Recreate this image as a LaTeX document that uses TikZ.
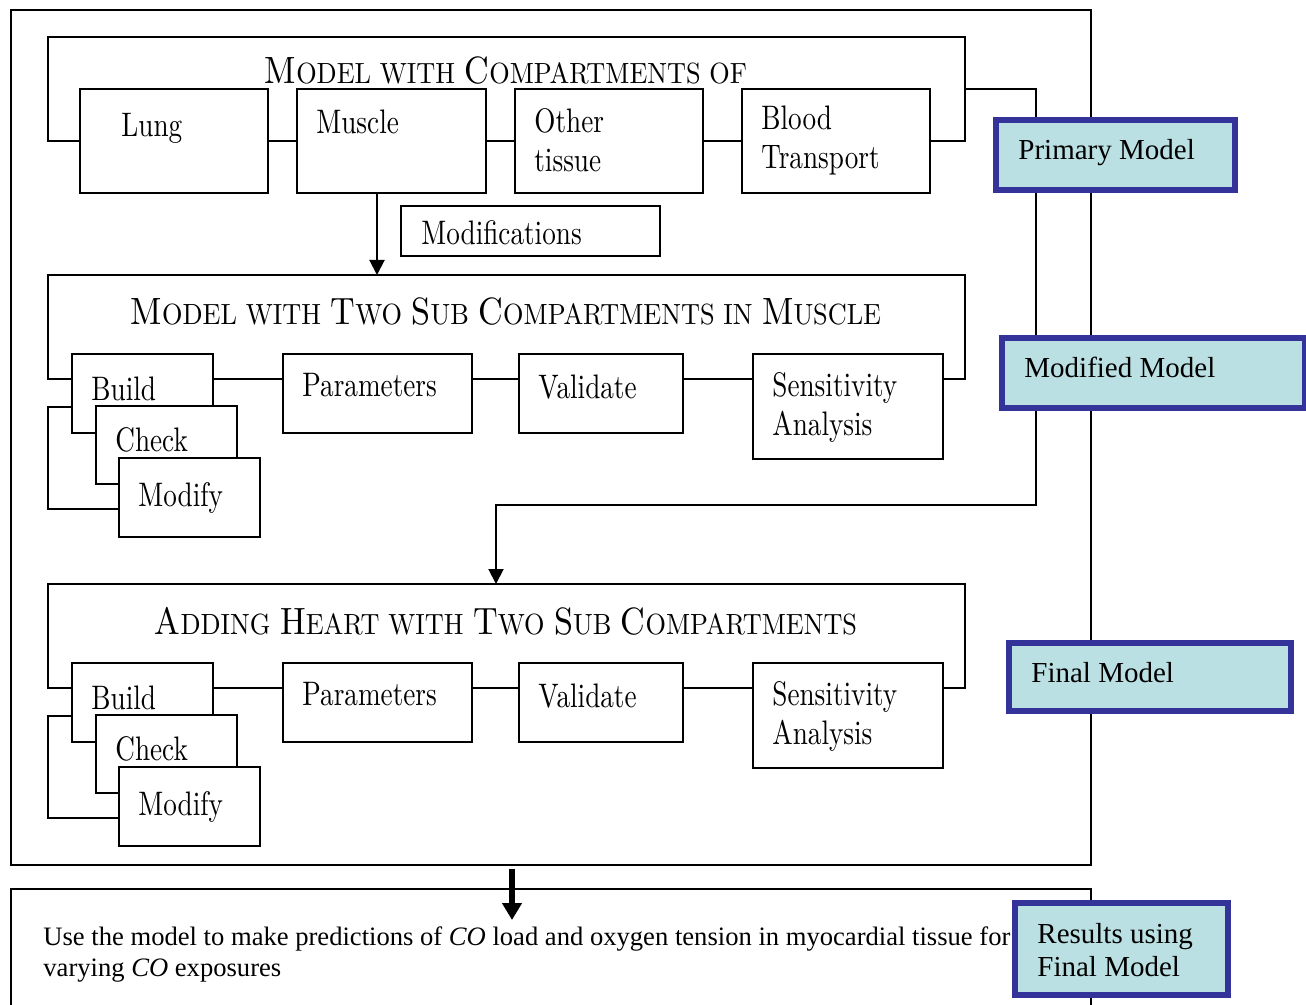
\documentclass[tikz,border=0pt]{standalone}
\usepackage{fontspec}
\newfontfamily\boxfont{lmroman10-regular.otf}[FakeStretch=0.8]
\newfontfamily\titlefont{lmroman10-regular.otf}[FakeStretch=0.9]
\newfontfamily\timesfont{Liberation Serif}
\usetikzlibrary{arrows.meta,calc}
\definecolor{modelblue}{HTML}{333399}
\definecolor{modelfill}{HTML}{BBE0E3}
\newcommand{\tcap}[1]{{\fontsize{19}{22}\selectfont #1}}
\newcommand{\tsmall}[1]{{\fontsize{14.6}{18}\selectfont #1}}
\tikzset{
  link/.style={line width=1pt},
  flow/.style={link, -{Triangle[length=7.5pt, width=7.5pt]}},
  bigflow/.style={line width=3pt, -{Triangle[length=8.5pt, width=9.5pt]}},
  frame/.style={draw, line width=1pt, anchor=north west, inner sep=0pt, outer sep=0pt},
  stage/.style={draw, line width=1pt, fill=white, anchor=north west, inner sep=0pt, outer sep=0pt},
  stagetext/.style={anchor=north west, inner sep=0pt, align=left, xshift=9.5pt, yshift=-10.5pt,
    font=\boxfont\fontsize{17}{19.5}\selectfont},
  heading/.style={anchor=base, inner sep=0pt, font=\titlefont\fontsize{16}{19}\selectfont},
  model/.style={draw=modelblue, line width=3pt, fill=modelfill, anchor=north west, inner sep=0pt, outer sep=0pt},
  modeltext/.style={anchor=base west, inner sep=0pt, xshift=11pt, yshift=-2.5pt, align=left,
    font=\timesfont\fontsize{14.5}{16.7}\selectfont},
}
\begin{document}
\begin{tikzpicture}[x=1pt, y=-1pt]
\useasboundingbox (0,0) rectangle (653,502.5);
\node[frame, minimum width=540pt, minimum height=427.5pt] (outer) at (5.5,5) {};
\node[frame, minimum width=540pt, minimum height=70pt] (usage) at (5.5,444.5) {};

% primary model
\coordinate (top1) at (24,18.5);
\node[heading] (title1) at (253,41.7) {\tcap{M}\tsmall{ODEL WITH} \tcap{C}\tsmall{OMPARTMENTS OF}};
\node[stage, minimum width=94pt, minimum height=52pt,
  label={[stagetext, xshift=11pt, yshift=-1.5pt]north west:Lung}] (lung) at (40,44.5) {};
\node[stage, minimum width=94.5pt, minimum height=52pt,
  label={[stagetext]north west:Muscle}] (muscle) at (148.5,44.5) {};
\node[stage, minimum width=94pt, minimum height=52pt,
  label={[stagetext, yshift=1pt]north west:{Other\\tissue}}] (other) at (257.5,44.5) {};
\node[stage, minimum width=94pt, minimum height=52pt,
  label={[stagetext, yshift=2pt]north west:{Blood\\Transport}}] (blood) at (371,44.5) {};
\draw[link] (lung.west) -| (top1) -| ($(blood.east)+(17.5,0)$) -- (blood.east);
\draw[link] (lung) -- (muscle) (muscle) -- (other) (other) -- (blood);
\node[stage, minimum width=129.5pt, minimum height=25pt,
  label={[stagetext, anchor=west, xshift=0.5pt, yshift=9.75pt]west:Modifications}] (modif) at (200.5,103) {};

% modified and final model
\foreach \g/\dy/\gtitle in {a/0/{\tcap{M}\tsmall{ODEL WITH} \tcap{T}\tsmall{WO} \tcap{S}\tsmall{UB} \tcap{C}\tsmall{OMPARTMENTS IN} \tcap{M}\tsmall{USCLE}},
    b/154.5/{\tcap{A}\tsmall{DDING} \tcap{H}\tsmall{EART WITH} \tcap{T}\tsmall{WO} \tcap{S}\tsmall{UB} \tcap{C}\tsmall{OMPARTMENTS}}}
{
  \coordinate (top\g) at (24,137.5+\dy);
  \node[heading] (title\g) at (253,162.5+\dy) {\gtitle};
  \node[stage, minimum width=70.5pt, minimum height=39.5pt,
    label={[stagetext, yshift=-1pt]north west:Build}] (build\g) at (36,177+\dy) {};
  \node[stage, minimum width=70.5pt, minimum height=39pt,
    label={[stagetext]north west:Check}] (check\g) at (48,203+\dy) {};
  \node[stage, minimum width=70.5pt, minimum height=39.5pt,
    label={[stagetext, yshift=-1.5pt]north west:Modify}] (modify\g) at (59.5,229+\dy) {};
  \node[stage, minimum width=94.5pt, minimum height=39.5pt,
    label={[stagetext, yshift=1pt]north west:Parameters}] (param\g) at (141.5,177+\dy) {};
  \node[stage, minimum width=82pt, minimum height=39.5pt,
    label={[stagetext]north west:Validate}] (valid\g) at (259.5,177+\dy) {};
  \node[stage, minimum width=95pt, minimum height=52.5pt,
    label={[stagetext, yshift=1.5pt]north west:{Sensitivity\\Analysis}}] (sens\g) at (376.5,177+\dy) {};
  \draw[link] ($(build\g.north west)+(0,12.5)$) -| (top\g) -| ($(sens\g.north east)+(11,12.5)$)
    -- ($(sens\g.north east)+(0,12.5)$);
  \draw[link] ($(build\g.north east)+(0,12.5)$) -- ($(param\g.north west)+(0,12.5)$);
  \draw[link] ($(param\g.north east)+(0,12.5)$) -- ($(valid\g.north west)+(0,12.5)$);
  \draw[link] ($(valid\g.north east)+(0,12.5)$) -- ($(sens\g.north west)+(0,12.5)$);
  \draw[link] ($(build\g.south west)+(0,-13)$) -| ($(top\g |- modify\g.south)+(0,-14)$)
    -- ($(modify\g.south west)+(0,-14)$);
}

% arrows between the stages
\coordinate (split) at ($(muscle.south west)+(40,0)$);
\draw[flow] (split) -- (split |- topa);
\coordinate (turn) at (518,252.5);
\coordinate (drop) at (248,252.5);
\draw[flow] ($(blood.north east)+(17.5,0)$) -| (turn) -- (drop) -- (drop |- topb);
\draw[bigflow] ($(outer.south)+(-19.5,2)$) -- ($(usage.north)+(-19.5,15.5)$);

\node[anchor=north west, inner sep=0pt, align=left, font=\timesfont\fontsize{13.3}{15.5}\selectfont] (predtext)
  at (21.5,463) {Use the model to make predictions of \textit{CO} load and oxygen tension in myocardial tissue for\\
  varying \textit{CO} exposures};

% model labels
\node[model, minimum width=119.5pt, minimum height=35pt,
  label={[modeltext]west:Primary Model}] (primary) at (498,60) {};
\node[model, minimum width=151.5pt, minimum height=35pt,
  label={[modeltext]west:Modified Model}] (modified) at (501,169) {};
\node[model, minimum width=141pt, minimum height=34pt,
  label={[modeltext]west:Final Model}] (final) at (504.5,321.5) {};
\node[model, minimum width=106.5pt, minimum height=46pt,
  label={[modeltext, anchor=north west, yshift=-7.5pt]north west:{Results using\\Final Model}}] (results) at (507.5,451.5) {};
\end{tikzpicture}
\end{document}
